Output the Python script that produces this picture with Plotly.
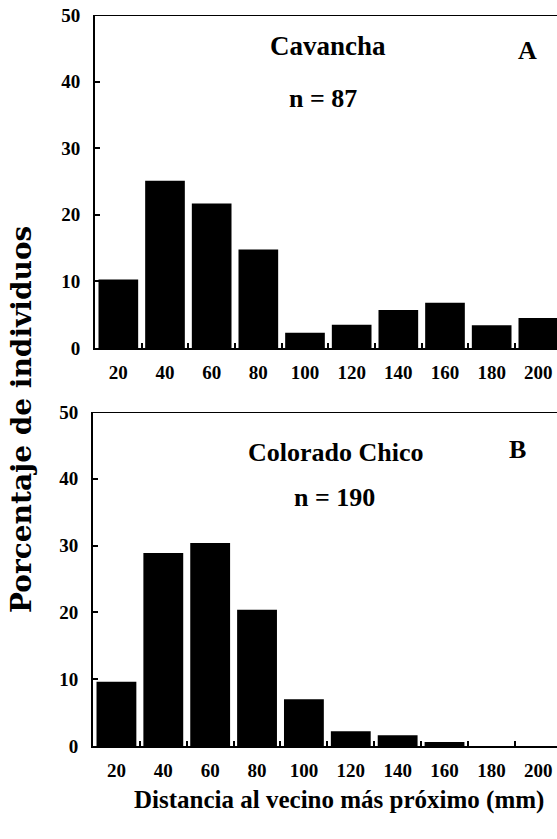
import plotly.graph_objects as go

# ---- data ----
bins = [20, 40, 60, 80, 100, 120, 140, 160, 180, 200]
tick_labels = ["20", "40", "60", "80", "100", "120", "140", "160", "180", "200"]
cavancha_pct = [10.3, 25.1, 21.7, 14.8, 2.3, 3.5, 5.7, 6.8, 3.4, 4.5]
colorado_pct = [9.6, 28.9, 30.4, 20.4, 7.0, 2.2, 1.6, 0.6, 0.0, 0.0]
bin_edges = [30, 50, 70, 90, 110, 130, 150, 170, 190]
y_ticks = [0, 10, 20, 30, 40, 50]

W, H = 557, 839
FONT = "Liberation Serif"

def px_x(x):
    return x / W

def px_y(y):
    return 1 - y / H

fig = go.Figure()
fig.add_trace(go.Bar(x=bins, y=cavancha_pct, width=17, marker=dict(color="black", line=dict(width=0)),
                     xaxis="x", yaxis="y", showlegend=False))
fig.add_trace(go.Bar(x=bins, y=colorado_pct, width=17, marker=dict(color="black", line=dict(width=0)),
                     xaxis="x2", yaxis="y2", showlegend=False))

tickfont = dict(family=FONT, size=19, color="black", weight="bold")

def xaxis_def(dom, anchor):
    return dict(domain=dom, anchor=anchor, range=[10, 208], tickvals=bins, ticktext=tick_labels,
                ticks="", showline=True, linecolor="black", linewidth=2, showgrid=False,
                zeroline=False, tickfont=tickfont, ticklabelstandoff=6, automargin=False,
                minor=dict(tickvals=bin_edges, ticks="inside", ticklen=5, tickcolor="black",
                           tickwidth=1.5, showgrid=False))

def yaxis_def(dom, anchor):
    return dict(domain=dom, anchor=anchor, range=[0, 50], tickvals=y_ticks,
                ticks="inside", ticklen=5, tickwidth=1.5, tickcolor="black",
                showline=True, linecolor="black", linewidth=2, showgrid=False, zeroline=False,
                tickfont=tickfont, ticklabelstandoff=9, automargin=False)

fig.update_layout(
    width=W, height=H,
    margin=dict(l=0, r=0, t=0, b=0, autoexpand=False),
    paper_bgcolor="white", plot_bgcolor="white",
    xaxis=xaxis_def([px_x(95), 1], "y"),
    yaxis=yaxis_def([px_y(348), px_y(15)], "x"),
    xaxis2=xaxis_def([px_x(93), 1], "y2"),
    yaxis2=yaxis_def([px_y(746), px_y(412)], "x2"),
)

# top borders
for xr, yr in (("x domain", "y"), ("x2 domain", "y2")):
    fig.add_shape(type="line", xref=xr, yref=yr, x0=0, x1=1, y0=50, y1=50,
                  line=dict(color="black", width=2))

big = dict(family=FONT, size=26, color="black", weight="bold")
ann = [
    ("Cavancha", 328, 46, 0, dict(big, size=27)),
    ("A", 527, 51, 0, dict(big, size=26)),
    ("n = 87", 323, 98, 0, big),
    ("Colorado Chico", 336, 452, 0, big),
    ("B", 517, 449, 0, dict(big, size=26)),
    ("n = 190", 334, 497, 0, big),
    ("Distancia al vecino más próximo (mm)", 339, 800, 0, dict(big, size=25)),
    ("Porcentaje de individuos", 21, 420, -90, dict(big, family="DejaVu Serif", size=28)),
]
for text, x, y, ang, f in ann:
    fig.add_annotation(text=text, x=px_x(x), y=px_y(y), xref="paper", yref="paper",
                       xanchor="center", yanchor="middle", showarrow=False, textangle=ang, font=f)

fig.write_html("out.html", config={"displayModeBar": False},
               post_script="document.body.style.margin='0px';")
